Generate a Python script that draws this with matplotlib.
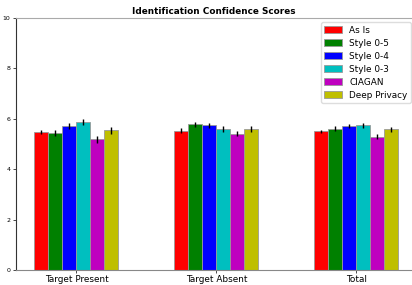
import numpy as np
import matplotlib
matplotlib.use('Agg')
import matplotlib.pyplot as plt

# Groups and methods
groups = ['Target Present', 'Target Absent', 'Total']
methods = ['As Is', 'Style 0-5', 'Style 0-4', 'Style 0-3', 'CIAGAN', 'Deep Privacy']
colors = ['r', 'g', 'b', 'c', 'm', 'y']

# Mean scores per method (one value per group)
as_is = [5.48, 5.53, 5.50]
style_05 = [5.44, 5.78, 5.61]
style_04 = [5.70, 5.74, 5.70]
style_03 = [5.87, 5.61, 5.74]
ciagan = [5.19, 5.41, 5.29]
deep_privacy = [5.54, 5.61, 5.58]

# Error bar half-lengths
as_is_err = [0.08, 0.09, 0.07]
style_05_err = [0.12, 0.11, 0.09]
style_04_err = [0.12, 0.10, 0.08]
style_03_err = [0.12, 0.12, 0.09]
ciagan_err = [0.14, 0.11, 0.10]
deep_privacy_err = [0.13, 0.12, 0.09]

means = [as_is, style_05, style_04, style_03, ciagan, deep_privacy]
errs = [as_is_err, style_05_err, style_04_err, style_03_err, ciagan_err, deep_privacy_err]

fig = plt.figure(figsize=(4.12, 2.85), dpi=100)
ax = fig.add_axes([16 / 412, 15 / 285, 396 / 412, 252 / 285])

x = np.arange(len(groups))
width = 0.1
for i, (m, e) in enumerate(zip(means, errs)):
    ax.bar(x + (i - 2.5) * width, m, width, yerr=e, color=colors[i],
           edgecolor='#999999', linewidth=0.6, label=methods[i],
           error_kw=dict(ecolor='black', elinewidth=1, capsize=0))

ax.set_xlim(-0.432, 2.397)
ax.set_ylim(0, 10)
ax.set_xticks(x)
ax.set_xticklabels(groups, fontsize=6.4)
ax.set_yticks([0, 2, 4, 6, 8, 10])
ax.tick_params(axis='y', labelsize=4.5, length=2, width=0.5, pad=2)
ax.tick_params(axis='x', length=2, width=0.5, pad=1.5)
ax.set_title('Identification Confidence Scores', fontsize=6.4, fontweight='bold', pad=3)

ax.spines['right'].set_visible(False)
ax.spines['top'].set_color('#aaaaaa')
ax.spines['bottom'].set_color('#888888')
ax.spines['left'].set_color('#333333')

ax.legend(loc='upper right', fontsize=6.4, handlelength=2, borderpad=0.4,
          labelspacing=0.45, framealpha=1, edgecolor='#dddddd',
          borderaxespad=0, bbox_to_anchor=(411 / 412, 1 - 22 / 285),
          bbox_transform=fig.transFigure)

fig.savefig('out.png', dpi=100)
